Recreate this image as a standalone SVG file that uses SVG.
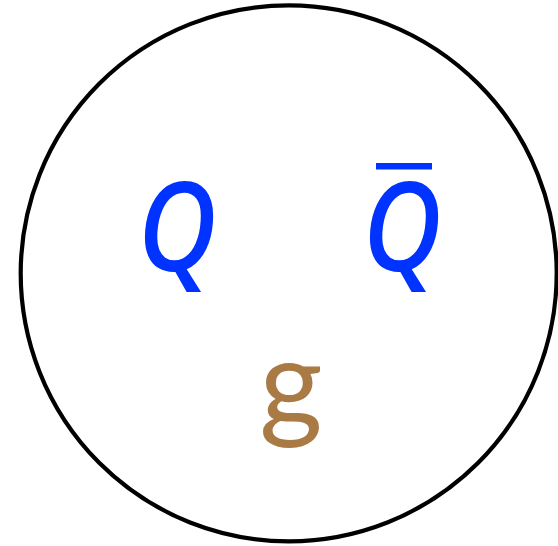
<svg xmlns="http://www.w3.org/2000/svg" width="558" height="546" viewBox="0 0 558 546">
<style>
.q{font-family:"Noto Sans","Open Sans",sans-serif;font-style:italic;font-weight:500;font-size:124px;fill:#0033ff;text-anchor:middle}
.g{font-family:Lato,"Open Sans",sans-serif;font-size:122px;fill:#aa7a44;text-anchor:middle}
</style>
<rect width="558" height="546" fill="#fff"/>
<g id="boundary"><circle cx="288.7" cy="273.3" r="268" fill="none" stroke="#000" stroke-width="4.2"/></g>
<g id="quark"><text class="q" transform="translate(177 271) scale(0.88 1)">Q</text></g>
<g id="antiquark"><text class="q" transform="translate(402 271) scale(0.88 1)">Q</text><rect x="376" y="163" width="56" height="6.5" fill="#0033ff"/></g>
<g id="gluon"><text class="g" x="291" y="426">g</text></g>
</svg>
